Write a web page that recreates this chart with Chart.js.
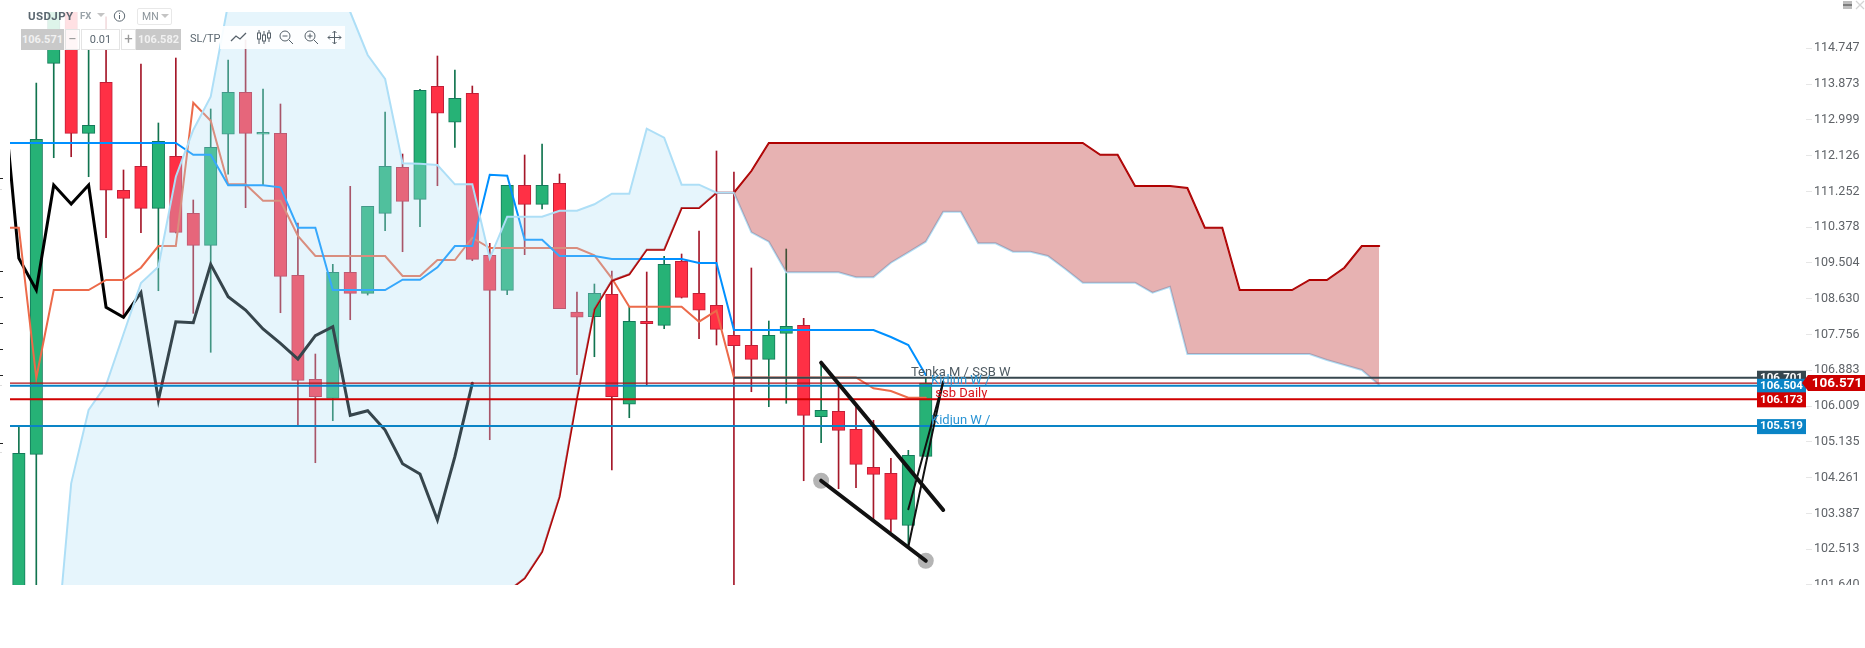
<!DOCTYPE html>
<html>
<head>
<meta charset="utf-8">
<script src="https://cdn.jsdelivr.net/npm/chart.js@4"></script>
<style>
html, body { margin: 0; padding: 0; background: #fff; }
#wrap { position: relative; width: 1865px; height: 648px; overflow: hidden; font-family: Roboto, sans-serif; }
#elGrafico { position: absolute; left: 0; top: 0; }
#cover { position: absolute; left: 0; top: 585px; width: 1865px; height: 63px; background: #fff; }
#veil { position: absolute; left: 20px; top: 12px; width: 160px; height: 38px; background: rgba(255,255,255,.85); }
.t { position: absolute; white-space: nowrap; color: #5b6770; }
.box { position: absolute; box-sizing: border-box; text-align: center; }
.grey { background: #c9c9c9; color: #f1f1f1; font-weight: 700; font-size: 11px; line-height: 21px; height: 21px; top: 29px; }
.step { background: rgba(255,255,255,.7); border: 1px solid #e4e4e4; color: #9a9a9a; font-size: 15px; line-height: 19px; height: 21px; top: 29px; }
#tools { position: absolute; left: 220px; top: 26px; width: 125px; height: 23px; background: rgba(255,255,255,.9); }
svg { position: absolute; overflow: visible; }
.mark { position: absolute; left: 0; height: 1px; }
</style>
</head>
<body>
<div id="wrap">
  <canvas id="elGrafico" width="1865" height="648"></canvas>
  <div id="cover"></div>
  <div id="veil"></div>
  <div class="t" style="left:28px;top:9px;font-size:11.5px;font-weight:700;letter-spacing:.4px">USDJPY</div>
  <div class="t" style="left:80px;top:10px;font-size:9.5px;color:#9aa3a9;font-weight:700">FX</div>
  <svg style="left:97px;top:13px" width="10" height="6"><path d="M0 0H8L4 4Z" fill="#c4c4c4"/></svg>
  <svg style="left:113px;top:10px" width="14" height="14"><circle cx="6.5" cy="6" r="5.2" fill="none" stroke="#5b6770"/><path d="M6.5 5V9M6.5 2.8V3.9" stroke="#5b6770"/></svg>
  <div class="box" style="left:137px;top:8px;width:35px;height:17px;border:1px solid #e8e8e8;border-radius:2px"></div>
  <div class="t" style="left:142px;top:10px;font-size:10.5px;color:#8c959b">MN</div>
  <svg style="left:161px;top:14px" width="10" height="6"><path d="M0 0H8L4 4Z" fill="#c4c4c4"/></svg>
  <div class="box grey" style="left:21px;width:43px">106.571</div>
  <div class="box step" style="left:65px;width:15px">−</div>
  <div class="box" style="left:81px;top:29px;width:39px;height:21px;background:#fff;border:1px solid #e4e4e4;font-size:11px;line-height:20px;color:#5b6770">0.01</div>
  <div class="box step" style="left:121px;width:15px">+</div>
  <div class="box grey" style="left:136px;width:45px">106.582</div>
  <div class="t" style="left:190px;top:32px;font-size:11px;line-height:14px;color:#5b6770">SL/TP</div>
  <div id="tools"></div>
  <svg style="left:231px;top:30px" width="16" height="14"><path d="M0 11L5 6L9 9L15 3" fill="none" stroke="#56616a" stroke-width="1.3"/></svg>
  <svg style="left:257px;top:30px" width="14" height="16"><path d="M2 0V14M7 1V14M12 0V12" stroke="#56616a"/><rect x="0.5" y="3" width="3" height="6" fill="#fff" stroke="#56616a"/><rect x="5.5" y="5" width="3" height="6" fill="#fff" stroke="#56616a"/><rect x="10.5" y="3" width="3" height="5" fill="#fff" stroke="#56616a"/></svg>
  <svg style="left:279px;top:30px" width="15" height="15"><circle cx="6" cy="6" r="5" fill="none" stroke="#56616a"/><path d="M3.5 6H8.5M10 10L14 14" stroke="#56616a"/></svg>
  <svg style="left:304px;top:30px" width="15" height="15"><circle cx="6" cy="6" r="5" fill="none" stroke="#56616a"/><path d="M3.5 6H8.5M6 3.5V8.5M10 10L14 14" stroke="#56616a"/></svg>
  <svg style="left:328px;top:31px" width="14" height="14"><path d="M6.5 0V13M0 6.5H13M4.5 2L6.5 0L8.5 2M4.5 11L6.5 13L8.5 11M2 4.5L0 6.5L2 8.5M11 4.5L13 6.5L11 8.5" fill="none" stroke="#56616a"/></svg>
  <svg style="left:1843px;top:1px" width="22" height="10"><rect width="9" height="8" fill="#bdbdbd"/><rect y="3" width="9" height="2" fill="#7d7d7d"/><path d="M13 0L21 8M21 0L13 8" stroke="#d4d4d4" stroke-width="1.2"/></svg>
</div>
<script>
const tickLabels = ['114.747','113.873','112.999','112.126','111.252','110.378','109.504','108.630','107.756','106.883','106.009','105.135','104.261','103.387','102.513','101.640']

// velas, indice 0 a 52
const opens = [100.783,104.830,114.381,116.171,112.671,113.917,111.279,111.865,110.839,112.109,110.717,109.935,112.647,113.672,112.647,112.671,109.203,106.662,106.198,109.276,108.763,110.717,111.841,111.059,113.819,112.940,113.648,109.691,108.836,111.401,110.937,111.450,108.306,108.191,108.738,106.052,108.079,107.981,109.544,108.763,108.470,107.737,107.493,107.151,107.786,107.981,105.749,105.881,105.441,104.513,104.366,103.096,104.781]
const closes = [104.855,112.524,116.171,112.671,112.866,111.279,111.083,110.839,112.476,110.253,109.935,112.329,113.672,112.671,112.695,109.178,106.638,106.237,109.276,108.763,110.888,111.865,111.010,113.721,113.160,113.526,109.593,108.836,111.401,110.937,111.401,108.387,108.177,108.763,106.237,108.079,108.020,109.471,108.665,108.348,107.883,107.483,107.151,107.737,107.957,105.783,105.905,105.416,104.586,104.342,103.242,104.806,106.571]
const highs = [105.505,113.900,116.300,116.300,114.974,115.519,111.775,114.364,112.923,114.510,111.042,113.265,114.461,114.950,113.753,113.387,110.480,107.280,109.471,111.376,110.888,113.191,112.165,113.746,114.559,114.217,113.826,109.984,111.401,112.141,112.410,111.677,108.795,108.990,109.307,108.436,109.283,109.667,109.723,110.284,112.239,111.726,109.381,108.086,109.845,108.152,107.068,106.572,105.993,105.661,104.733,104.928,106.694]
const lows = [100.300,100.300,112.075,112.099,111.611,110.121,108.184,110.243,108.826,110.236,108.274,107.322,111.670,110.854,111.401,108.289,105.546,104.625,105.651,108.118,108.721,110.292,109.779,110.390,111.391,112.329,109.559,105.187,108.729,109.706,110.822,108.387,106.775,107.214,104.447,105.724,106.523,107.898,108.648,107.654,107.500,100.300,106.359,105.993,106.076,104.185,105.114,103.990,104.014,103.226,102.940,102.574,104.781]

// ichimoku, tenkan/kijun/chikou empiezan en -1, las nubes en 2
const tenkan = [112.434,112.434,112.434,112.434,112.434,112.434,112.434,112.434,112.434,112.434,112.434,112.148,112.148,111.401,111.401,111.401,111.352,110.365,110.365,108.843,108.843,108.843,108.843,109.095,109.095,109.398,109.918,109.918,111.660,111.635,110.072,110.072,109.674,109.674,109.674,109.600,109.600,109.600,109.600,109.600,109.503,109.503,107.866,107.866,107.866,107.866,107.866,107.866,107.866,107.866,107.866,107.695,107.500,106.767]
const kijun = [110.365,110.365,106.694,108.843,108.843,108.843,109.088,109.088,109.388,109.918,109.918,113.418,112.979,111.425,111.425,111.025,111.025,110.162,109.674,109.674,109.674,109.674,109.674,109.185,109.185,109.576,109.576,110.121,109.869,109.869,109.869,109.869,109.869,109.869,109.691,109.129,108.436,108.436,108.436,108.436,108.069,108.338,106.706,106.706,106.706,106.706,106.706,106.706,106.706,106.706,106.442,106.376,106.213,106.213]
const chikou = [114.144,109.618,108.843,111.408,110.944,111.408,108.421,108.177,108.778,106.157,108.069,108.045,109.471,108.680,108.355,107.891,107.542,107.158,107.727,107.947,105.783,105.895,105.424,104.600,104.349,103.225,104.772,106.564]
const senkouA = [98.829,98.829,98.829,98.829,98.829,98.829,98.829,98.829,98.829,98.829,98.829,98.829,98.829,98.829,98.829,98.829,98.829,98.829,98.829,98.829,98.829,98.829,98.829,98.829,100.300,100.905,101.474,101.801,102.451,103.794,106.198,108.372,109.071,109.227,109.828,109.828,110.846,110.846,111.220,111.220,111.750,112.434,112.434,112.434,112.434,112.434,112.434,112.434,112.434,112.434,112.434,112.434,112.434,112.434,112.434,112.434,112.434,112.434,112.434,112.434,112.148,112.148,111.384,111.384,111.384,111.335,110.365,110.365,108.843,108.843,108.843,108.843,109.088,109.088,109.388,109.918,109.918]
const senkouB = [99.317,104.122,105.912,106.523,107.769,109.014,109.413,111.611,112.752,113.565,115.829,116.538,116.538,116.538,116.538,116.538,116.538,115.634,114.584,113.997,111.938,111.928,111.897,111.425,111.425,109.618,110.634,110.634,110.634,110.780,110.780,110.937,111.196,111.196,112.783,112.563,111.416,111.416,111.220,111.220,110.253,110.023,109.276,109.276,109.276,109.276,109.154,109.154,109.510,109.764,110.023,110.756,110.756,109.984,109.984,109.779,109.779,109.674,109.356,109.022,109.022,109.022,109.022,108.778,108.924,107.280,107.280,107.280,107.280,107.280,107.280,107.280,107.280,107.134,107.012,106.889,106.523]

// niveles horizontales
const levelPrices = [106.701,106.571,106.504,106.173,105.519]
const levelStarts = [41,-1,-1,-1,-1]
const levelEnd = 99.66
const levelTags = ['106.701',null,'106.504','106.173','105.519']
const lastPrice = 106.571

// lineas dibujadas a mano
const wedgeTopX = [46,53]
const wedgeTopY = [107.068,103.470]
const wedgeLowX = [46,52]
const wedgeLowY = [104.185,102.231]
const thinOneX = [51,53]
const thinOneY = [103.487,106.606]
const thinTwoX = [51,53]
const thinTwoY = [102.574,106.606]
const anchorX = [46,52]
const anchorY = [104.185,102.231]

const noteTexts = ['Tenka M / SSB W','Kidjun W /','ssb Daily','Kidjun W /']
const notePrices = [106.701,106.504,106.173,105.519]
const noteX = [51.15,52.3,52.55,52.3]
const noteColors = ['#4f5b63','#2a94d4','#d8141c','#2a94d4']

const tagColors = ['#37474f',null,'#0a84c6','#d00000','#0a84c6']

const edgeMarks = [178,271,297,323,349,375,443]
const edgeMarksPale = [189,385,452]

const wrap = document.getElementById('wrap')
const addMark = (y, color, w) => {
    const d = document.createElement('div')
    d.className = 'mark'
    d.style.top = y + 'px'
    d.style.width = w + 'px'
    d.style.background = color
    wrap.appendChild(d)
}
edgeMarks.forEach((y) => addMark(y, '#222', 3))
edgeMarksPale.forEach((y) => addMark(y, '#ddd', 2))

const series = (values, start) => values.map((v, i) => ({ x: i + start, y: v }))
const pairs = (xs, ys) => xs.map((x, i) => ({ x: x, y: ys[i] }))
const isUp = (i) => closes[i] >= opens[i]

const line = (label, data, color, width, order, extra) => Object.assign({
    type: 'line', label, data, borderColor: color, borderWidth: width, order,
    pointRadius: 0, tension: 0, fill: false, borderCapStyle: 'round', borderJoinStyle: 'miter'
}, extra || {})

const datasets = [
    {
        type: 'bar', label: 'wicks', order: 20, barThickness: 1, grouped: false,
        data: opens.map((o, i) => ({ x: i, y: [lows[i], highs[i]] })),
        backgroundColor: opens.map((o, i) => isUp(i) ? '#11744f' : '#a5182a'),
        borderWidth: 0
    },
    {
        type: 'bar', label: 'bodies', order: 19, barThickness: 12.5, grouped: false,
        data: opens.map((o, i) => ({ x: i, y: [o, closes[i]] })),
        backgroundColor: opens.map((o, i) => isUp(i) ? '#26b276' : '#ff3045'),
        borderColor: opens.map((o, i) => isUp(i) ? '#14795a' : '#c21f38'),
        borderWidth: 1, borderSkipped: false
    },
    line('chikou', series(chikou, -1), '#000000', 3, 18),
    line('kijun', series(kijun, -1), '#ec6a4a', 2, 17),
    line('tenkan', series(tenkan, -1), '#0090ff', 2, 16),
    line('senkouA', series(senkouA, 2), '#b00000', 2, 15),
    line('senkouB', series(senkouB, 2), '#aedff7', 2, 14),
    // el relleno va encima de todo lo anterior
    line('kumo', series(senkouB, 2), 'rgba(0,0,0,0)', 0, 13, {
        fill: { target: 5, above: 'rgba(174,222,245,0.31)', below: 'rgba(176,0,0,0.3)' }
    })
]

const levelColors = ['#37474f', '#b01218', '#0a84c6', '#d00000', '#0a84c6']
const levelWidths = [2, 1.2, 2, 2, 2]
levelPrices.forEach((p, i) => {
    datasets.push(line('level' + i, [{ x: levelStarts[i], y: p }, { x: levelEnd, y: p }], levelColors[i], levelWidths[i], 10 - i, { borderCapStyle: 'butt' }))
})
datasets.push(line('anchors', pairs(anchorX, anchorY), 'rgba(0,0,0,0)', 0, 5, {
    pointRadius: 8, pointBackgroundColor: '#b4b4b4', pointBorderWidth: 0
}))
datasets.push(line('wedgeTop', pairs(wedgeTopX, wedgeTopY), '#111111', 4, 4))
datasets.push(line('wedgeLow', pairs(wedgeLowX, wedgeLowY), '#111111', 4, 3))
datasets.push(line('thinOne', pairs(thinOneX, thinOneY), '#111111', 2, 2))
datasets.push(line('thinTwo', pairs(thinTwoX, thinTwoY), '#111111', 2, 1))

const overlay = {
    id: 'overlay',
    afterDraw(chart) {
        const c = chart.ctx
        const xs = chart.scales.x
        const ys = chart.scales.y
        c.save()
        c.textBaseline = 'alphabetic'
        c.textAlign = 'left'
        c.font = '13px Roboto'
        noteTexts.forEach((t, i) => {
            c.fillStyle = noteColors[i]
            c.fillText(t, xs.getPixelForValue(noteX[i]), ys.getPixelForValue(notePrices[i]) - 2)
        })
        const left = xs.getPixelForValue(levelEnd)
        c.font = 'bold 11.5px Roboto'
        c.textAlign = 'center'
        c.textBaseline = 'middle'
        levelTags.forEach((t, i) => {
            if (!t) return
            const y = ys.getPixelForValue(levelPrices[i])
            c.fillStyle = tagColors[i]
            c.fillRect(left, y - 7, 49, 15)
            c.fillStyle = '#fff'
            c.fillText(t, left + 24.5, y + 0.5)
        })
        const y = ys.getPixelForValue(lastPrice)
        c.fillStyle = '#cc0000'
        c.beginPath()
        c.moveTo(1802, y)
        c.lineTo(1808, y - 8)
        c.lineTo(1865, y - 8)
        c.lineTo(1865, y + 8)
        c.lineTo(1808, y + 8)
        c.closePath()
        c.fill()
        c.fillStyle = '#fff'
        c.font = 'bold 13.5px Roboto'
        c.fillText(String(lastPrice), 1837, y + 0.5)
        c.restore()
    }
}

new Chart('elGrafico', {
    data: { datasets },
    plugins: [overlay],
    options: {
        responsive: false,
        animation: false,
        events: [],
        layout: { padding: { left: 10, top: 12, bottom: 63, right: 0 } },
        plugins: { legend: { display: false }, tooltip: { enabled: false } },
        scales: {
            x: { type: 'linear', display: false, min: -0.508, max: 102.47, offset: false },
            y: {
                type: 'linear', position: 'right', min: 101.638, max: 115.634,
                afterBuildTicks(axis) { axis.ticks = tickLabels.map((t) => ({ value: parseFloat(t) })) },
                afterFit(axis) { axis.width = 59; axis.paddingTop = 0; axis.paddingBottom = 0 },
                border: { display: false },
                grid: { drawOnChartArea: false, color: '#e6e6e6', tickLength: 6 },
                ticks: {
                    autoSkip: false, padding: 2, color: '#5f6368',
                    font: { family: 'Roboto', size: 12.5 },
                    callback: (v) => v.toFixed(3)
                }
            }
        }
    }
})
</script>
</body>
</html>
